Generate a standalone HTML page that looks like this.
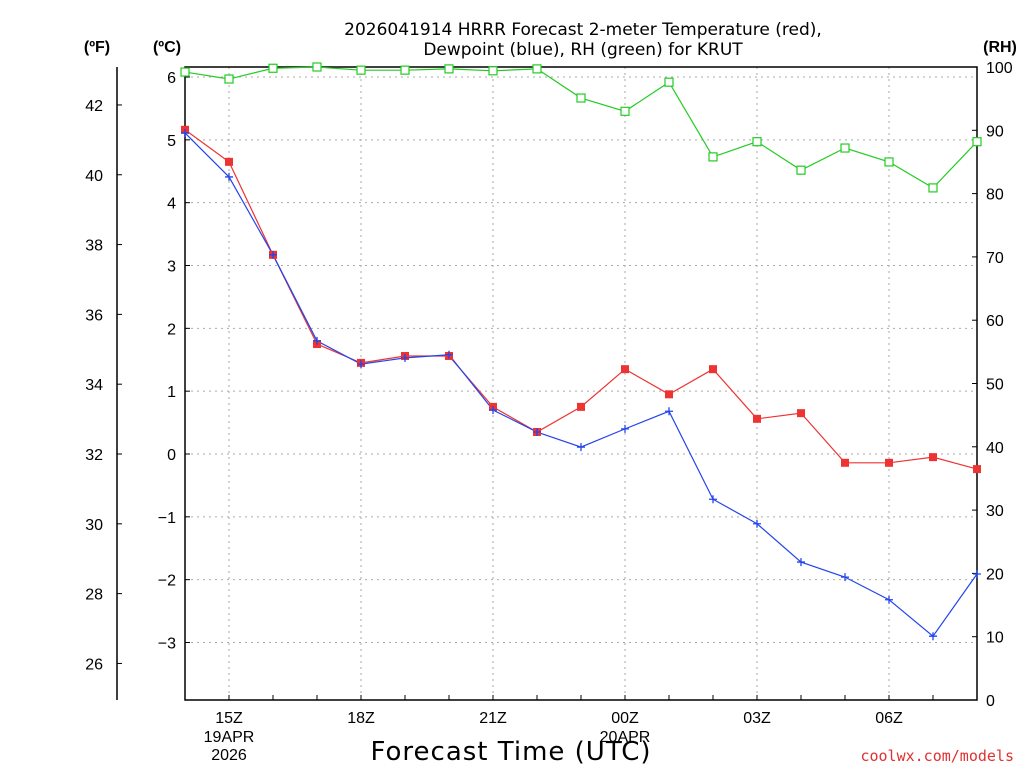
<!DOCTYPE html>
<html><head><meta charset="utf-8"><style>
body{margin:0;background:#fff;}
svg{display:block;font-family:"Liberation Sans","DejaVu Sans",sans-serif;}
</style></head><body>
<svg id="chart" width="1024" height="768" xmlns="http://www.w3.org/2000/svg">
<rect width="1024" height="768" fill="#fff"/>
<text x="583" y="35" font-size="17" font-family="DejaVu Sans, sans-serif" text-anchor="middle">2026041914 HRRR Forecast 2-meter Temperature (red),</text>
<text x="583" y="55" font-size="17" font-family="DejaVu Sans, sans-serif" text-anchor="middle">Dewpoint (blue), RH (green) for KRUT</text>
<text x="97" y="52" font-size="16" font-weight="bold" text-anchor="middle">(ºF)</text>
<text x="167" y="52" font-size="16" font-weight="bold" text-anchor="middle">(ºC)</text>
<text x="1000" y="52" font-size="16" font-weight="bold" text-anchor="middle">(RH)</text>
<text x="511" y="760" font-size="26" font-family="DejaVu Sans, sans-serif" text-anchor="middle" letter-spacing="1">Forecast Time (UTC)</text>
<text x="1014" y="761" font-size="15" font-family="DejaVu Sans Mono, monospace" fill="#e03030" text-anchor="end">coolwx.com/models</text>
<g id="grid"></g><g id="axes"></g><g id="series"></g>
</svg>
<script>
const hours=[14,15,16,17,18,19,20,21,22,23,24,25,26,27,28,29,30,31,32];
const tempC=[5.16,4.65,3.17,1.75,1.45,1.56,1.56,0.75,0.35,0.75,1.35,0.95,1.35,0.56,0.65,-0.14,-0.14,-0.05,-0.24];
const dewC=[5.11,4.41,3.17,1.80,1.43,1.53,1.58,0.70,0.35,0.11,0.40,0.68,-0.72,-1.11,-1.72,-1.96,-2.32,-2.90,-1.91];
const rh=[99.2,98.1,99.8,100,99.5,99.5,99.7,99.4,99.7,95.1,93.0,97.6,85.8,88.2,83.7,87.2,85.0,80.9,88.2];
const cTicks=[6,5,4,3,2,1,0,-1,-2,-3];
const fTicks=[42,40,38,36,34,32,30,28,26];
const rhTicks=[100,90,80,70,60,50,40,30,20,10,0];
const xTickHours=[15,18,21,24,27,30];
const xTickLabels=["15Z","18Z","21Z","00Z","03Z","06Z"];
const NS="http://www.w3.org/2000/svg";
const L=185,R=977,T=67,B=700;
const x=h=>L+(h-14)*(R-L)/18;
const yC=c=>454-c*62.83;
const yF=f=>yC((f-32)*5/9);
const yR=r=>B-r*(B-T)/100;
function mk(parent,tag,at,txt){const e=document.createElementNS(NS,tag);for(const k in at)e.setAttribute(k,at[k]);if(txt!==undefined)e.textContent=txt;document.getElementById(parent).appendChild(e);return e;}
cTicks.forEach(c=>{const e=mk('grid','line',{x1:L,x2:R,y1:yC(c),y2:yC(c),stroke:'#aaa','stroke-dasharray':'2,4'});

});
xTickHours.forEach(h=>{const e=mk('grid','line',{x1:x(h),x2:x(h),y1:T,y2:B,stroke:'#aaa','stroke-dasharray':'2,4'});

});
const fr=mk('axes','rect',{x:L,y:T,width:R-L,height:B-T,fill:'none',stroke:'#000','stroke-width':1.5});


const fa=mk('axes','line',{x1:117,x2:117,y1:T,y2:B,stroke:'#000','stroke-width':1.5});


cTicks.forEach(c=>{mk('axes','line',{x1:L,x2:L+5,y1:yC(c),y2:yC(c),stroke:'#000'});
const t=mk('axes','text',{x:176,y:yC(c)+6,'font-size':16,'text-anchor':'end'},c<0?'\u2212'+(-c):String(c));

});
fTicks.forEach(f=>{mk('axes','line',{x1:117,x2:122,y1:yF(f),y2:yF(f),stroke:'#000'});
const t=mk('axes','text',{x:103,y:yF(f)+6,'font-size':16,'text-anchor':'end'},String(f));

});
rhTicks.forEach(r=>{mk('axes','line',{x1:R-5,x2:R,y1:yR(r),y2:yR(r),stroke:'#000'});
const t=mk('axes','text',{x:986,y:yR(r)+6,'font-size':16},String(r));

});
for(let h=14;h<=32;h++){mk('axes','line',{x1:x(h),x2:x(h),y1:B,y2:B-5,stroke:'#000'});}
xTickHours.forEach((h,i)=>{const t=mk('axes','text',{x:x(h),y:723,'font-size':16,'text-anchor':'middle'},xTickLabels[i]);

});
[["19APR",15,742],["2026",15,760],["20APR",24,742]].forEach(d=>{const t=mk('axes','text',{x:x(d[1]),y:d[2],'font-size':16,'text-anchor':'middle'},d[0]);

});
function line(vals,yf,col,name){const p=mk('series','polyline',{points:vals.map((v,i)=>x(hours[i])+','+yf(v)).join(' '),fill:'none',stroke:col,'stroke-width':1.2});

}
line(rh,yR,'#22cc22','rh-line');
line(tempC,yC,'#ee3333','temperature-line');
line(dewC,yC,'#2244ee','dewpoint-line');
rh.forEach((v,i)=>{const m=mk('series','rect',{x:x(hours[i])-4,y:yR(v)-4,width:8,height:8,fill:'#fff',stroke:'#22cc22','stroke-width':1.2});

});
tempC.forEach((v,i)=>{const m=mk('series','rect',{x:x(hours[i])-4,y:yC(v)-4,width:8,height:8,fill:'#ee3333'});

});
dewC.forEach((v,i)=>{const cx=x(hours[i]),cy=yC(v);
const m=mk('series','path',{d:`M${cx-4},${cy}H${cx+4}M${cx},${cy-4}V${cy+4}`,stroke:'#2244ee','stroke-width':1.3});

});
</script>
</body></html>
